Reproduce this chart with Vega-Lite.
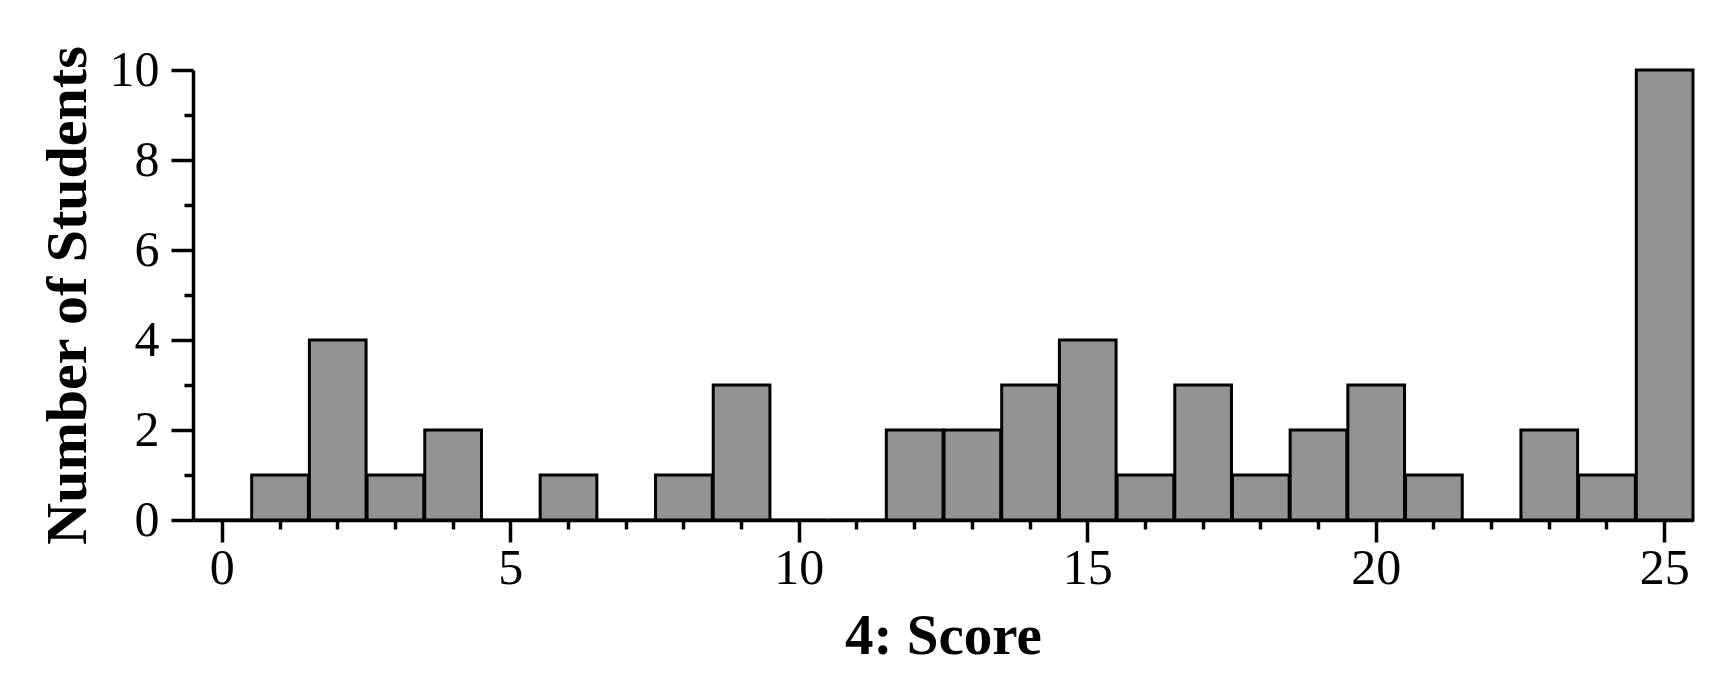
{
  "$schema": "https://vega.github.io/schema/vega-lite/v6.json",
  "width": 1500,
  "height": 450,
  "autosize": {"type": "none"},
  "padding": {"left": 193, "top": 70, "right": 40, "bottom": 160},
  "background": "white",
  "config": {
    "view": {"stroke": null},
    "axis": {
      "labelFont": "Liberation Serif",
      "titleFont": "Liberation Serif",
      "grid": false,
      "domainColor": "black",
      "tickColor": "black",
      "labelColor": "black",
      "titleColor": "black",
      "labelFlush": false,
      "labelOverlap": false
    }
  },
  "data": {
    "values": [
      {"score": 0, "bin_start": -0.5, "bin_end": 0.5, "count": 0},
      {"score": 1, "bin_start": 0.5, "bin_end": 1.5, "count": 1},
      {"score": 2, "bin_start": 1.5, "bin_end": 2.5, "count": 4},
      {"score": 3, "bin_start": 2.5, "bin_end": 3.5, "count": 1},
      {"score": 4, "bin_start": 3.5, "bin_end": 4.5, "count": 2},
      {"score": 5, "bin_start": 4.5, "bin_end": 5.5, "count": 0},
      {"score": 6, "bin_start": 5.5, "bin_end": 6.5, "count": 1},
      {"score": 7, "bin_start": 6.5, "bin_end": 7.5, "count": 0},
      {"score": 8, "bin_start": 7.5, "bin_end": 8.5, "count": 1},
      {"score": 9, "bin_start": 8.5, "bin_end": 9.5, "count": 3},
      {"score": 10, "bin_start": 9.5, "bin_end": 10.5, "count": 0},
      {"score": 11, "bin_start": 10.5, "bin_end": 11.5, "count": 0},
      {"score": 12, "bin_start": 11.5, "bin_end": 12.5, "count": 2},
      {"score": 13, "bin_start": 12.5, "bin_end": 13.5, "count": 2},
      {"score": 14, "bin_start": 13.5, "bin_end": 14.5, "count": 3},
      {"score": 15, "bin_start": 14.5, "bin_end": 15.5, "count": 4},
      {"score": 16, "bin_start": 15.5, "bin_end": 16.5, "count": 1},
      {"score": 17, "bin_start": 16.5, "bin_end": 17.5, "count": 3},
      {"score": 18, "bin_start": 17.5, "bin_end": 18.5, "count": 1},
      {"score": 19, "bin_start": 18.5, "bin_end": 19.5, "count": 2},
      {"score": 20, "bin_start": 19.5, "bin_end": 20.5, "count": 3},
      {"score": 21, "bin_start": 20.5, "bin_end": 21.5, "count": 1},
      {"score": 22, "bin_start": 21.5, "bin_end": 22.5, "count": 0},
      {"score": 23, "bin_start": 22.5, "bin_end": 23.5, "count": 2},
      {"score": 24, "bin_start": 23.5, "bin_end": 24.5, "count": 1},
      {"score": 25, "bin_start": 24.5, "bin_end": 25.5, "count": 10}
    ]
  },
  "layer": [
    {
      "mark": {"type": "bar", "fill": "#939393", "stroke": "black", "strokeWidth": 3},
      "encoding": {
        "x": {
          "field": "bin_start",
          "type": "quantitative",
          "bin": {"binned": true, "step": 1},
          "scale": {"domain": [-0.5, 25.5], "nice": false, "zero": false},
          "axis": {
            "orient": "bottom",
            "values": [0, 5, 10, 15, 20, 25],
            "tickSize": 22,
            "tickWidth": 3.5,
            "domainWidth": 3.5,
            "labelFontSize": 50,
            "labelBaseline": "alphabetic",
            "labelPadding": 41,
            "title": "4: Score",
            "titleFontSize": 57,
            "titleFontWeight": "bold",
            "titleX": 750,
            "titleY": 133,
            "titleBaseline": "alphabetic",
            "titleAlign": "center"
          }
        },
        "x2": {"field": "bin_end"},
        "y": {
          "field": "count",
          "type": "quantitative",
          "scale": {"domain": [0, 10], "nice": false},
          "axis": {
            "orient": "left",
            "values": [0, 2, 4, 6, 8, 10],
            "tickSize": 22,
            "tickWidth": 3.5,
            "domainWidth": 3.5,
            "labelFontSize": 50,
            "labelPadding": 12,
            "title": "Number of Students",
            "titleFontSize": 58,
            "titleFontWeight": "bold",
            "titleAngle": 270,
            "titleX": -108,
            "titleY": 225,
            "titleBaseline": "alphabetic",
            "titleAlign": "center"
          }
        }
      }
    },
    {
      "mark": {"type": "point", "opacity": 0},
      "encoding": {
        "x": {
          "field": "score",
          "type": "quantitative",
          "axis": {
            "orient": "bottom",
            "values": [1, 2, 3, 4, 6, 7, 8, 9, 11, 12, 13, 14, 16, 17, 18, 19, 21, 22, 23, 24],
            "tickSize": 9,
            "tickWidth": 3.5,
            "domain": false,
            "labels": false,
            "title": null
          }
        },
        "y": {
          "field": "count",
          "type": "quantitative",
          "axis": {
            "orient": "left",
            "values": [1, 3, 5, 7, 9],
            "tickSize": 9,
            "tickWidth": 3.5,
            "domain": false,
            "labels": false,
            "title": null
          }
        }
      }
    }
  ],
  "resolve": {"axis": {"x": "independent", "y": "independent"}}
}
